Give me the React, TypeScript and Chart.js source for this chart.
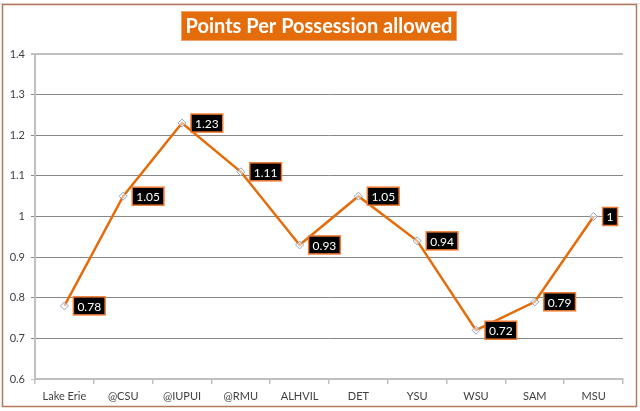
import React, { useEffect, useRef } from "react";
import { Chart, registerables } from "chart.js";

Chart.register(...registerables);

const categories = ["Lake Erie", "@CSU", "@IUPUI", "@RMU", "ALHVIL", "DET", "YSU", "WSU", "SAM", "MSU"];
const ppp = [0.78, 1.05, 1.23, 1.11, 0.93, 1.05, 0.94, 0.72, 0.79, 1];
const labelTexts = ["0.78", "1.05", "1.23", "1.11", "0.93", "1.05", "0.94", "0.72", "0.79", "1"];
const titleText = "Points Per Possession allowed";
const yMin = 0.6;
const yMax = 1.4;
const yStep = 0.1;

const ORANGE = "#E46C0A";

const framePlugin = {
  id: "frame",
  beforeDraw(chart: any) {
    const ctx = chart.ctx;
    ctx.save();
    ctx.fillStyle = "#ffffff";
    ctx.fillRect(0, 0, chart.width, chart.height);
    // faint spreadsheet gridlines outside frame
    ctx.strokeStyle = "#E6E6E6";
    ctx.lineWidth = 1;
    ctx.beginPath();
    ctx.moveTo(0, 3.5);
    ctx.lineTo(chart.width, 3.5);
    ctx.stroke();
    ctx.strokeStyle = "#B4785A";
    ctx.lineWidth = 1.5;
    ctx.strokeRect(2.5, 4.5, 634, 402);
    ctx.restore();
  },
  afterDraw(chart: any) {
    const ctx = chart.ctx;
    ctx.save();
    // title box
    ctx.font = "bold 20px Lato, 'Open Sans', sans-serif";
    const w = ctx.measureText(titleText).width;
    const cx = 319;
    const bx = 181;
    const bw = 276;
    ctx.fillStyle = ORANGE;
    ctx.fillRect(bx, 11, bw, 30);
    ctx.strokeStyle = "#F4A070";
    ctx.lineWidth = 1;
    ctx.strokeRect(bx + 0.5, 11.5, bw - 1, 29);
    ctx.fillStyle = "#ffffff";
    ctx.textAlign = "center";
    ctx.textBaseline = "middle";
    ctx.fillText(titleText, cx, 27, bw - 8);
    void w;
    ctx.restore();
  },
};

const labelPlugin = {
  id: "ptLabels",
  afterDatasetsDraw(chart: any) {
    const ctx = chart.ctx;
    const meta = chart.getDatasetMeta(0);
    ctx.save();
    ctx.font = "12px Lato, 'Open Sans', sans-serif";
    ctx.textBaseline = "middle";
    ctx.textAlign = "left";
    meta.data.forEach((pt: any, i: number) => {
      const txt = labelTexts[i];
      const tw = ctx.measureText(txt).width;
      const x = pt.x + 9;
      const h = 18;
      const y = pt.y - h / 2;
      const bw = tw + 8;
      ctx.fillStyle = "#000000";
      ctx.fillRect(x, y, bw, h);
      ctx.strokeStyle = "#F07A30";
      ctx.lineWidth = 1.5;
      ctx.strokeRect(x, y, bw, h);
      ctx.fillStyle = "#ffffff";
      ctx.fillText(txt, x + 4, y + h / 2 + 1);
    });
    ctx.restore();
  },
};

export default function App() {
  const ref = useRef<HTMLCanvasElement | null>(null);
  useEffect(() => {
    if (!ref.current) return;
    const chart = new Chart(ref.current, {
      type: "line",
      data: {
        labels: categories,
        datasets: [
          {
            data: ppp,
            borderColor: ORANGE,
            borderWidth: 2.5,
            tension: 0,
            pointStyle: "rectRot",
            pointRadius: 4,
            pointBorderColor: "#8FA5C5",
            pointBackgroundColor: "rgba(255,255,255,0.5)",
            pointBorderWidth: 1,
          },
        ],
      },
      options: {
        responsive: false,
        animation: false,
        devicePixelRatio: 1,
        layout: { padding: { left: 0, right: 17, top: 54, bottom: 0 } },
        plugins: {
          legend: { display: false },
          title: { display: false },
          tooltip: { enabled: false },
        },
        scales: {
          x: {
            offset: true,
            grid: {
              offset: true,
              drawOnChartArea: false,
              drawTicks: true,
              tickLength: 5,
              color: "#C0C0C0",
              lineWidth: 1.5,
            },
            border: { display: true, color: "#C0C0C0", width: 2 },
            ticks: {
              color: "#404040",
              font: { family: "Lato, 'Open Sans', sans-serif", size: 11 },
              padding: 6,
              maxRotation: 0,
              autoSkip: false,
            },
            afterFit(scale: any) {
              scale.height = 32;
            },
          },
          y: {
            min: yMin,
            max: yMax,
            ticks: {
              stepSize: yStep,
              color: "#404040",
              font: { family: "Lato, 'Open Sans', sans-serif", size: 11 },
              padding: 6,
              callback: (v: any) => String(Math.round(Number(v) * 10) / 10),
            },
            grid: {
              tickLength: 4,
              color: (c: any) => (c.index === 8 ? "#C0C0C0" : c.index === 0 ? "#C0C0C0" : "#888888"),
              lineWidth: (c: any) => (c.index === 8 ? 2 : 1),
            },
            border: { display: true, color: "#C0C0C0", width: 2 },
            afterFit(scale: any) {
              scale.width = 35;
            },
          },
        },
      },
      plugins: [framePlugin, labelPlugin],
    });
    return () => chart.destroy();
  }, []);
  return (
    <div style={{ position: "fixed", left: 0, top: 0, width: 640, height: 411, background: "#fff" }}>
      <canvas ref={ref} width={640} height={411} style={{ width: 640, height: 411, display: "block" }} />
    </div>
  );
}
